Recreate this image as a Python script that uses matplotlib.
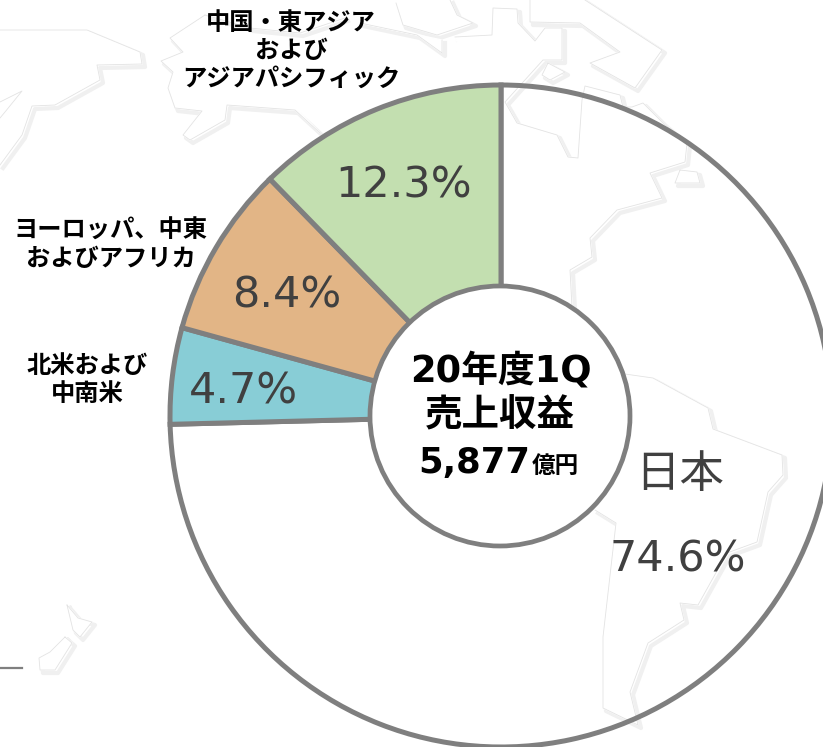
import matplotlib
matplotlib.use("Agg")
import matplotlib.pyplot as plt
from matplotlib.patches import Circle

plt.rcParams['font.family'] = ['DejaVu Sans', 'Noto Sans CJK JP']

# === データ ===
regions = ["日本", "北米および\n中南米", "ヨーロッパ、中東\nおよびアフリカ", "中国・東アジア\nおよび\nアジアパシフィック"]
shares = [74.6, 4.7, 8.4, 12.3]
share_labels = ["74.6%", "4.7%", "8.4%", "12.3%"]
colors = ["none", "#88CDD6", "#E2B586", "#C3DFB0"]
center_lines = ["20年度1Q", "売上収益", "5,877", "億円"]

# === 背景の地図 (ピクセル座標) ===
map_shapes = [
    [(0, 30), (87, 30), (140, 52), (142, 64), (97, 65), (100, 80), (55, 105), (32, 106), (22, 135), (0, 165)],
    [(0, 102), (22, 91), (5, 112), (0, 118)],
    [(205, 15), (170, 38), (183, 52), (161, 61), (173, 72), (168, 88), (175, 108), (202, 111), (183, 135),
     (190, 140), (225, 120), (227, 105), (295, 110), (320, 133)],
    [(205, 15), (250, 28), (300, 33), (345, 18)],
    [(360, 23), (417, 35), (442, 53), (442, 40)],
    [(396, 3), (403, 25), (437, 35), (473, 23), (457, 15), (450, 0)],
    [(455, 37), (492, 35), (493, 8), (517, 9), (518, 23), (535, 41), (545, 28), (562, 28), (562, 60), (543, 60),
     (505, 102), (517, 123), (557, 135), (568, 157), (578, 158), (582, 100), (585, 86), (620, 95), (623, 107),
     (632, 107), (643, 103), (663, 123), (687, 143), (685, 162), (650, 173), (662, 198), (617, 210), (590, 238),
     (592, 257), (570, 270), (572, 307)],
    [(530, 0), (530, 22), (580, 23), (620, 52), (590, 63), (635, 88), (662, 50), (585, 0)],
    [(548, 63), (565, 72), (550, 80), (542, 75), (548, 63)],
    [(680, 170), (697, 172), (700, 183), (675, 183), (680, 170)],
    [(625, 374), (653, 378), (708, 408), (713, 429), (782, 455), (783, 475), (768, 492), (757, 542), (727, 553),
     (698, 605), (680, 603), (684, 620), (648, 643), (630, 692), (638, 725), (603, 708), (603, 637), (616, 523),
     (595, 510)],
    [(67, 605), (73, 630), (80, 637), (92, 622), (78, 618), (67, 605)],
    [(65, 637), (72, 643), (55, 670), (40, 670), (39, 658), (50, 652), (65, 637)],
]

fig = plt.figure(figsize=(8.23, 7.47), dpi=100)
ax = fig.add_axes([0, 0, 1, 1])

for shape in map_shapes:
    xs = [p[0] for p in shape]
    ys = [p[1] for p in shape]
    ax.plot([x + 3 for x in xs], [y + 3 for y in ys], color="#F0F0F0", lw=3, zorder=1)
    ax.fill(xs, ys, color="white", zorder=1.5)
    ax.plot(xs, ys, color="#E3E3E3", lw=0.6, zorder=2)

# y軸が反転しているので startangle=-90 で上から時計回り
ax.pie(shares, colors=colors, startangle=-90, counterclock=True, center=(501, 416), radius=331,
       wedgeprops=dict(edgecolor="#7F7F7F", linewidth=3.6, zorder=3))

ax.set_xlim(0, 823)
ax.set_ylim(747, 0)
ax.set_aspect("auto")
ax.axis("off")

ax.add_patch(Circle((500, 416), 130, facecolor="white", edgecolor="#7F7F7F", linewidth=3.4, zorder=4))
ax.plot([0, 22], [668, 668], color="#7F7F7F", lw=1.6, zorder=2)

# 凡例代わりの地域名
label_pos = [(680, 474), (87, 380), (111, 245), (291, 51)]
for i in range(1, 4):
    ax.text(label_pos[i][0], label_pos[i][1], regions[i], ha="center", va="center", fontsize=17.5,
            fontweight="bold", color="black", family="Noto Sans CJK JP", linespacing=1.22, zorder=5)
ax.text(label_pos[0][0], label_pos[0][1], regions[0], ha="center", va="center", fontsize=32,
        color="#404040", family="Noto Sans CJK JP", zorder=5)

# パーセント
pct_pos = [(678, 559), (243, 391), (287, 295), (404, 185)]
for (x, y), s in zip(pct_pos, share_labels):
    ax.text(x, y, s, ha="center", va="center", fontsize=31, color="#404040", zorder=5)

# 中央の文字
ax.text(501, 371, center_lines[0], ha="center", va="center", fontsize=26.5, fontweight="bold", color="black", zorder=5)
ax.text(500, 415, center_lines[1], ha="center", va="center", fontsize=27, fontweight="bold", color="black",
        family="Noto Sans CJK JP", zorder=5)
ax.text(530, 473, center_lines[2], ha="right", va="baseline", fontsize=25.5, fontweight="bold", color="black", zorder=5)
ax.text(532, 473, center_lines[3], ha="left", va="baseline", fontsize=17, fontweight="bold", color="black",
        family="Noto Sans CJK JP", zorder=5)

fig.savefig("out.png", dpi=100)
